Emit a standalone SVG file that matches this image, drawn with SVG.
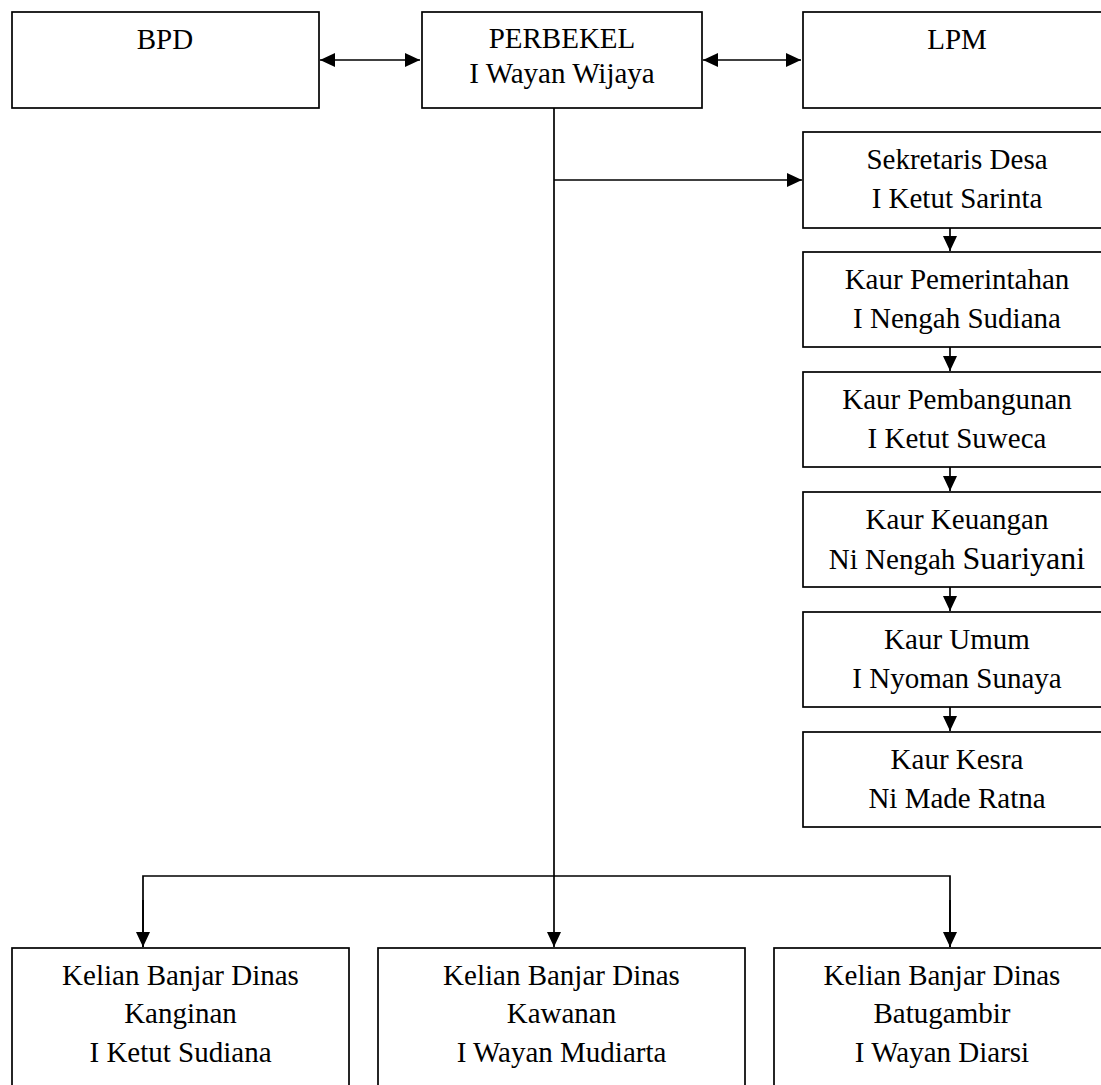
<svg xmlns="http://www.w3.org/2000/svg" width="1101" height="1085" viewBox="0 0 1101 1085">
<style>
.box{fill:#fff;stroke:#000;stroke-width:1.7}
.t{font-family:"Liberation Serif","Times New Roman",serif;font-size:29px;fill:#000;text-anchor:middle}
.c{fill:none;stroke:#000;stroke-width:1.7}
</style>
<defs>
<marker id="ah" markerUnits="userSpaceOnUse" markerWidth="16" markerHeight="14" refX="15" refY="7" orient="auto-start-reverse">
<path d="M0,0 L15,7 L0,14 z" fill="#000"/>
</marker>
</defs>
<rect width="1101" height="1085" fill="#fff"/>
<g id="connectors">
<line class="c" x1="320" y1="60" x2="420" y2="60" marker-start="url(#ah)" marker-end="url(#ah)"/>
<line class="c" x1="703" y1="60" x2="801" y2="60" marker-start="url(#ah)" marker-end="url(#ah)"/>
<line class="c" x1="554" y1="108" x2="554" y2="947" marker-end="url(#ah)"/>
<line class="c" x1="554" y1="180" x2="802" y2="180" marker-end="url(#ah)"/>
<line class="c" x1="950" y1="228" x2="950" y2="251" marker-end="url(#ah)"/>
<line class="c" x1="950" y1="347" x2="950" y2="371" marker-end="url(#ah)"/>
<line class="c" x1="950" y1="467" x2="950" y2="491" marker-end="url(#ah)"/>
<line class="c" x1="950" y1="587" x2="950" y2="611" marker-end="url(#ah)"/>
<line class="c" x1="950" y1="707" x2="950" y2="731" marker-end="url(#ah)"/>
<polyline class="c" points="143,947 143,876 950,876 950,947"/>
<line class="c" x1="143" y1="900" x2="143" y2="947" marker-end="url(#ah)"/>
<line class="c" x1="950" y1="900" x2="950" y2="947" marker-end="url(#ah)"/>
</g>
<g id="bpd"><rect class="box" x="12" y="12" width="307" height="96"/><text class="t" x="165" y="49">BPD</text></g>
<g id="perbekel"><rect class="box" x="422" y="12" width="280" height="96"/><text class="t" x="562" y="48">PERBEKEL</text><text class="t" x="562" y="83">I Wayan Wijaya</text></g>
<g id="lpm"><rect class="box" x="803" y="12" width="308" height="96"/><text class="t" x="957" y="49">LPM</text></g>
<g id="sekdes"><rect class="box" x="803" y="132" width="308" height="96"/><text class="t" x="957" y="169">Sekretaris Desa</text><text class="t" x="957" y="208">I Ketut Sarinta</text></g>
<g id="kaur-pemerintahan"><rect class="box" x="803" y="252" width="308" height="95"/><text class="t" x="957" y="289">Kaur Pemerintahan</text><text class="t" x="957" y="328">I Nengah Sudiana</text></g>
<g id="kaur-pembangunan"><rect class="box" x="803" y="372" width="308" height="95"/><text class="t" x="957" y="409">Kaur Pembangunan</text><text class="t" x="957" y="448">I Ketut Suweca</text></g>
<g id="kaur-keuangan"><rect class="box" x="803" y="492" width="308" height="95"/><text class="t" x="957" y="529">Kaur Keuangan</text><text class="t" x="957" y="569">Ni Nengah <tspan font-size="32">Suariyani</tspan></text></g>
<g id="kaur-umum"><rect class="box" x="803" y="612" width="308" height="95"/><text class="t" x="957" y="649">Kaur Umum</text><text class="t" x="957" y="688">I Nyoman Sunaya</text></g>
<g id="kaur-kesra"><rect class="box" x="803" y="732" width="308" height="95"/><text class="t" x="957" y="769">Kaur Kesra</text><text class="t" x="957" y="808">Ni Made Ratna</text></g>
<g id="kanginan"><rect class="box" x="12" y="948" width="337" height="150"/><text class="t" x="180.5" y="985">Kelian Banjar Dinas</text><text class="t" x="180.5" y="1023">Kanginan</text><text class="t" x="180.5" y="1062">I Ketut Sudiana</text></g>
<g id="kawanan"><rect class="box" x="378" y="948" width="367" height="150"/><text class="t" x="561.5" y="985">Kelian Banjar Dinas</text><text class="t" x="561.5" y="1023">Kawanan</text><text class="t" x="561.5" y="1062">I Wayan Mudiarta</text></g>
<g id="batugambir"><rect class="box" x="774" y="948" width="337" height="150"/><text class="t" x="942" y="985">Kelian Banjar Dinas</text><text class="t" x="942" y="1023">Batugambir</text><text class="t" x="942" y="1062">I Wayan Diarsi</text></g>
</svg>
